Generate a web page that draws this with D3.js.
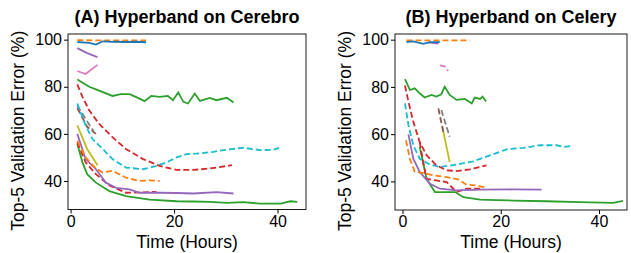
<!DOCTYPE html>
<html>
<head>
<meta charset="utf-8">
<script src="https://cdn.jsdelivr.net/npm/d3@7"></script>
<style>
body { margin: 0; background: #fff; }
text { font-family: "Liberation Sans", Arial, sans-serif; }
</style>
</head>
<body>
<script>
var xTicks = [0, 20, 40];
var yTicks = [40, 60, 80, 100];
var titles = ['(A) Hyperband on Cerebro', '(B) Hyperband on Celery'];

var colors = {blue: '#1f77b4', orange: '#ff7f0e', green: '#2ca02c', red: '#d62728',
              purple: '#9467bd', brown: '#8c564b', pink: '#e377c2', gray: '#7f7f7f',
              olive: '#bcbd22', cyan: '#17becf'};

// panel A: hours / error per run
var aBlueH = [1.3, 3.6, 4.9, 6.2, 8.1, 10.7, 12.7, 14.6];
var aBlueV = [99.0, 98.6, 97.9, 99.3, 99.1, 99.0, 99.1, 98.9];
var aOrangeTopH = [1.3, 5, 10, 14.6];
var aOrangeTopV = [99.8, 99.7, 99.7, 99.7];
var aPurpleTopH = [1.3, 3.2, 5.2];
var aPurpleTopV = [96.4, 94.3, 92.6];
var aPinkH = [1.3, 2.9, 5.2];
var aPinkV = [86.7, 85.4, 89.3];
var aGreenTopH = [1.3, 3.6, 4.9, 8.1, 9.7, 11.4, 12.7, 14.3, 15.6, 17.2, 18.8, 19.8, 20.8, 21.8, 22.7, 24.0, 25.0, 26.9, 28.2, 30.2, 31.5];
var aGreenTopV = [83.1, 80.0, 78.9, 76.1, 76.9, 76.9, 75.6, 73.9, 76.1, 75.7, 76.1, 74.3, 77.6, 73.6, 72.9, 77.1, 74.0, 75.3, 74.3, 75.3, 73.3];
var aRedTopH = [1.3, 2.3, 3.6, 5.5, 8.1, 10.7, 14.0, 17.2, 20.5, 23.7, 26.9, 31.2];
var aRedTopV = [81.0, 75.7, 70.0, 64.3, 58.6, 53.6, 49.3, 46.4, 44.7, 44.7, 45.3, 46.7];
var aCyanH = [1.3, 1.9, 2.9, 4.2, 6.2, 8.1, 10.7, 14.0, 16.6, 18.5, 20.5, 22.4, 25.0, 27.6, 30.2, 33.4, 36.7, 39.3, 40.3];
var aCyanV = [72.9, 69.3, 63.6, 57.9, 53.6, 49.3, 45.7, 45.0, 46.4, 47.9, 50.0, 51.4, 51.7, 52.4, 53.3, 54.1, 53.1, 53.3, 54.1];
var aBrownH = [1.3, 3.2, 4.9];
var aBrownV = [71.0, 63.0, 60.0];
var aGrayH = [1.3, 3.0, 4.5];
var aGrayV = [72.0, 66.0, 61.0];
var aOliveH = [1.3, 3.2, 5.2];
var aOliveV = [63.6, 53.6, 46.7];
var aOrangeLowH = [1.3, 2.9, 4.9, 6.2, 8.1, 10.7, 13.3, 15.3, 17.2];
var aOrangeLowV = [57.1, 50.0, 45.3, 43.6, 44.3, 41.4, 40.0, 40.3, 40.0];
var aPurpleLowH = [1.3, 2.9, 4.9, 6.8, 8.8, 11.4, 13.3, 17.2, 20.5, 23.7, 28.2, 31.5];
var aPurpleLowV = [60.0, 49.3, 45.0, 39.3, 37.1, 36.4, 35.0, 35.0, 34.9, 34.7, 35.3, 34.7];
var aRedLowH = [1.3, 2.9, 4.9, 7.5, 10.7, 14.0, 16.6];
var aRedLowV = [56.4, 47.9, 42.9, 38.1, 35.0, 35.2, 35.4];
var aGreenLowH = [1.3, 2.3, 3.2, 4.9, 7.5, 10.7, 15.3, 20.5, 23.7, 26.9, 30.2, 33.4, 36.7, 40.6, 42.5, 43.8];
var aGreenLowV = [55.7, 47.9, 42.9, 39.3, 35.7, 33.6, 32.1, 31.4, 31.3, 31.1, 30.7, 31.0, 30.4, 30.4, 31.4, 31.1];

// panel B
var bBlueH = [0.8, 2.2, 4.2, 5.6, 7.6];
var bBlueV = [99.0, 99.3, 98.2, 99.0, 99.0];
var bOrangeTopH = [0.8, 5, 10, 13.7];
var bOrangeTopV = [99.7, 99.7, 99.7, 99.7];
var bPurpleTopH = [5.2, 7.3];
var bPurpleTopV = [98.9, 98.3];
var bPinkH = [7.6, 8.6, 9.3];
var bPinkV = [89.1, 88.7, 86.8];
var bGreenTopH = [0.5, 1.5, 2.5, 3.5, 4.5, 5.9, 6.9, 7.9, 8.6, 9.6, 11.0, 12.7, 14.1, 14.7, 15.8, 16.3, 17.0];
var bGreenTopV = [83.3, 78.7, 79.4, 77.3, 75.5, 76.6, 75.9, 76.9, 80.1, 76.6, 74.5, 74.9, 73.0, 75.5, 74.9, 75.9, 73.8];
var bBrownH = [7.3, 8.3];
var bBrownV = [70.9, 61.0];
var bGrayH = [7.9, 9.6];
var bGrayV = [70.2, 58.9];
var bOliveH = [8.1, 9.6];
var bOliveV = [63.1, 48.2];
var bRedTopH = [0.5, 1.2, 2.2, 3.5, 4.9, 6.9, 9.0, 11.0, 13.7, 17.1];
var bRedTopV = [80.6, 73.8, 65.2, 56.7, 51.1, 46.8, 44.7, 44.4, 45.1, 46.8];
var bCyanH = [0.5, 1.2, 2.2, 3.5, 5.6, 7.6, 11.0, 14.4, 17.8, 21.2, 24.6, 28.0, 31.4, 32.7, 34.4];
var bCyanV = [73.0, 63.8, 55.3, 49.6, 47.1, 46.1, 47.1, 48.5, 51.0, 53.6, 54.2, 55.3, 55.3, 54.6, 55.0];
var bOrangeLowH = [0.7, 1.5, 2.5, 4.2, 6.2, 9.0, 11.3, 13.0, 15.1, 17.1];
var bOrangeLowV = [57.4, 49.6, 44.0, 43.6, 42.6, 41.8, 40.9, 38.6, 38.3, 37.2];
var bPurpleLowH = [1.2, 2.2, 3.5, 5.6, 7.6, 11.0, 15.8, 22.5, 28.3];
var bPurpleLowV = [59.9, 49.6, 44.0, 39.0, 36.9, 36.2, 36.5, 36.6, 36.5];
var bRedLowH = [3.5, 4.2, 4.9, 6.9, 9.0, 11.0, 13.0, 15.8];
var bRedLowV = [56.7, 48.2, 41.1, 40.4, 39.7, 35.5, 36.9, 36.9];
var bGreenLowH = [3.5, 4.9, 6.6, 10.7, 12.4, 15.8, 19.1, 22.5, 29.3, 36.1, 42.9, 44.9];
var bGreenLowV = [54.6, 41.1, 35.5, 35.5, 33.3, 32.3, 32.1, 31.9, 31.6, 31.2, 30.9, 31.8];

function run(h, v, color, dashed) {
    return {h: h, v: v, color: colors[color], dashed: dashed};
}

var panelA = [
    run(aGreenLowH, aGreenLowV, 'green', false),
    run(aRedLowH, aRedLowV, 'red', true),
    run(aPurpleLowH, aPurpleLowV, 'purple', false),
    run(aOrangeLowH, aOrangeLowV, 'orange', true),
    run(aOliveH, aOliveV, 'olive', false),
    run(aBrownH, aBrownV, 'brown', true),
    run(aGrayH, aGrayV, 'gray', true),
    run(aCyanH, aCyanV, 'cyan', true),
    run(aRedTopH, aRedTopV, 'red', true),
    run(aGreenTopH, aGreenTopV, 'green', false),
    run(aPinkH, aPinkV, 'pink', false),
    run(aPurpleTopH, aPurpleTopV, 'purple', false),
    run(aOrangeTopH, aOrangeTopV, 'orange', true),
    run(aBlueH, aBlueV, 'blue', false)
];

var panelB = [
    run(bGreenLowH, bGreenLowV, 'green', false),
    run(bRedLowH, bRedLowV, 'red', true),
    run(bPurpleLowH, bPurpleLowV, 'purple', false),
    run(bOrangeLowH, bOrangeLowV, 'orange', true),
    run(bCyanH, bCyanV, 'cyan', true),
    run(bRedTopH, bRedTopV, 'red', true),
    run(bOliveH, bOliveV, 'olive', false),
    run(bGrayH, bGrayV, 'gray', true),
    run(bBrownH, bBrownV, 'brown', true),
    run(bGreenTopH, bGreenTopV, 'green', false),
    run(bPinkH, bPinkV, 'pink', true),
    run(bPurpleTopH, bPurpleTopV, 'purple', false),
    run(bOrangeTopH, bOrangeTopV, 'orange', true),
    run(bBlueH, bBlueV, 'blue', false)
];

var svg = d3.select('body')
    .append('svg')
    .attr('width', 631)
    .attr('height', 253);

function draw_panel(runs, title, box, xDomain) {
    var xScale = d3.scaleLinear().domain(xDomain).range([box.left, box.right]);
    var yScale = d3.scaleLinear().domain([27.9, 102.4]).range([box.bottom, box.top]);

    var g = svg.append('g');

    var line = d3.line()
        .x(function(d) { return xScale(d[0]); })
        .y(function(d) { return yScale(d[1]); });

    runs.forEach(function(r) {
        var pts = r.h.map(function(h, i) { return [h, r.v[i]]; });
        g.append('path')
            .attr('d', line(pts))
            .attr('fill', 'none')
            .attr('stroke', r.color)
            .attr('stroke-width', 1.8)
            .attr('stroke-dasharray', r.dashed ? '6,3' : null);
    });

    g.append('rect')
        .attr('x', box.left)
        .attr('y', box.top)
        .attr('width', box.right - box.left)
        .attr('height', box.bottom - box.top)
        .attr('fill', 'none')
        .attr('stroke', '#000')
        .attr('stroke-width', 0.9);

    g.append('g')
        .attr('transform', 'translate(0,' + box.bottom + ')')
        .call(d3.axisBottom(xScale).tickValues(xTicks).tickSize(4).tickPadding(2).tickFormat(d3.format('d')))
        .call(function(a) { a.select('.domain').remove(); })
        .selectAll('text')
        .style('font-size', '16px')
        .attr('fill', '#000');

    g.append('g')
        .attr('transform', 'translate(' + box.left + ',0)')
        .call(d3.axisLeft(yScale).tickValues(yTicks).tickSize(4).tickPadding(2).tickFormat(d3.format('d')))
        .call(function(a) { a.select('.domain').remove(); })
        .selectAll('text')
        .style('font-size', '16px')
        .attr('fill', '#000');

    g.selectAll('.tick line').attr('stroke', '#000');

    g.append('text')
        .attr('x', (box.left + box.right) / 2)
        .attr('y', 23)
        .attr('text-anchor', 'middle')
        .style('font-size', '18px')
        .style('font-weight', 'bold')
        .text(title);

    g.append('text')
        .attr('x', (box.left + box.right) / 2)
        .attr('y', 248)
        .attr('text-anchor', 'middle')
        .style('font-size', '17.5px')
        .text('Time (Hours)');

    g.append('text')
        .attr('transform', 'translate(' + (box.left - 44) + ',' + ((box.top + box.bottom) / 2 + 9) + ') rotate(-90)')
        .attr('text-anchor', 'middle')
        .style('font-size', '17.5px')
        .text('Top-5 Validation Error (%)');
}

draw_panel(panelA, titles[0], {left: 68, right: 306, top: 34, bottom: 209.5}, [-0.5, 45.5]);
draw_panel(panelB, titles[1], {left: 395, right: 627, top: 34, bottom: 210}, [-1.53, 45.7]);
</script>
</body>
</html>
